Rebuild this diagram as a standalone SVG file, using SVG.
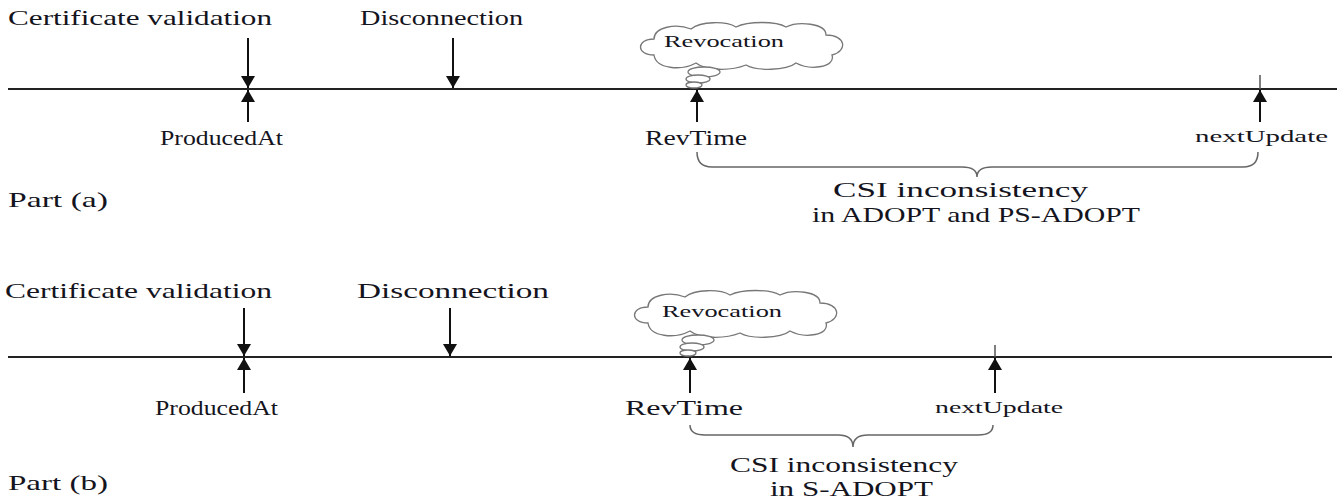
<svg xmlns="http://www.w3.org/2000/svg" width="1337" height="500" viewBox="0 0 1337 500" font-family="'Liberation Serif', 'Times New Roman', serif">
<style>
  text { font-family: 'Liberation Serif', 'Times New Roman', Times, serif; fill: #141420; }
  .lbl { font-size: 21px; }
  .sm { font-size: 17px; }
  .line { stroke: #222; stroke-width: 2; fill: none; }
  .arr { stroke: #111; stroke-width: 2; fill: none; marker-end: url(#ah); }
  .tick { stroke: #555; stroke-width: 1.5; }
  .brace { stroke: #666; stroke-width: 1.5; fill: none; }
  .cloud { stroke: #777; stroke-width: 1.3; fill: #fff; }
</style>
<defs>
  <marker id="ah" markerUnits="userSpaceOnUse" markerWidth="13" markerHeight="14" refX="12" refY="7" orient="auto">
    <path d="M0,0 L12,7 L0,14 z" fill="#111"/>
  </marker>
  <g id="cloudShape">
    <path class="cloud" d="M18,34 C0,34 0,18 18,18 C18,6 40,2 55,8 C65,0 90,0 100,6 C112,0 140,0 150,6 C162,0 190,2 190,14 C210,14 212,30 196,34 C200,46 175,50 160,42 C150,50 120,50 110,44 C95,50 70,50 60,42 C45,50 20,48 18,34 Z"/>
    <ellipse class="cloud" cx="68" cy="51" rx="16" ry="5"/>
    <ellipse class="cloud" cx="62" cy="58" rx="12" ry="4"/>
    <ellipse class="cloud" cx="58" cy="64" rx="8" ry="3"/>
  </g>
</defs>

<!-- Part (a) -->
<g id="timeline-a">
  <line class="line" x1="8" y1="89" x2="1337" y2="89"/>
</g>
<g id="connectors-a">
  <line class="arr" x1="248" y1="38" x2="248" y2="88"/>
  <line class="arr" x1="248" y1="122" x2="248" y2="90"/>
  <line class="arr" x1="453" y1="38" x2="453" y2="88"/>
  <line class="arr" x1="697" y1="122" x2="697" y2="90"/>
  <line class="tick" x1="1260" y1="75" x2="1260" y2="89"/>
  <line class="arr" x1="1260" y1="122" x2="1260" y2="90"/>
  <path class="brace" d="M697,152 Q697,167 712,167 L962,167 Q977,167 977,177 Q977,167 992,167 L1243,167 Q1258,167 1258,152"/>
</g>
<g id="cert-a"><text class="lbl" x="8" y="25" textLength="264" lengthAdjust="spacingAndGlyphs">Certificate validation</text></g>
<g id="disc-a"><text class="lbl" x="360" y="25" textLength="163" lengthAdjust="spacingAndGlyphs">Disconnection</text></g>
<g id="produced-a"><text class="lbl" x="160" y="145" textLength="123" lengthAdjust="spacingAndGlyphs">ProducedAt</text></g>
<g id="revocation-a">
  <use href="#cloudShape" transform="translate(636,21)"/>
  <text class="sm" x="664" y="47" textLength="120" lengthAdjust="spacingAndGlyphs">Revocation</text>
</g>
<g id="revtime-a"><text class="lbl" x="645" y="145" textLength="102" lengthAdjust="spacingAndGlyphs">RevTime</text></g>
<g id="nextupdate-a"><text class="sm" x="1195" y="142" textLength="133" lengthAdjust="spacingAndGlyphs">nextUpdate</text></g>
<g id="csi-a">
  <text class="lbl" x="833" y="197" textLength="255" lengthAdjust="spacingAndGlyphs">CSI inconsistency</text>
  <text class="lbl" x="812" y="222" textLength="328" lengthAdjust="spacingAndGlyphs">in ADOPT and PS-ADOPT</text>
</g>
<g id="part-a"><text class="lbl" x="8" y="207" textLength="100" lengthAdjust="spacingAndGlyphs">Part (a)</text></g>

<!-- Part (b) -->
<g id="timeline-b">
  <line class="line" x1="8" y1="357" x2="1332" y2="357"/>
</g>
<g id="connectors-b">
  <line class="arr" x1="244" y1="308" x2="244" y2="356"/>
  <line class="arr" x1="244" y1="393" x2="244" y2="358"/>
  <line class="arr" x1="450" y1="308" x2="450" y2="356"/>
  <line class="arr" x1="690" y1="393" x2="690" y2="358"/>
  <line class="tick" x1="995" y1="345" x2="995" y2="357"/>
  <line class="arr" x1="995" y1="393" x2="995" y2="358"/>
  <path class="brace" d="M690,425 Q690,435 705,435 L838,435 Q853,435 853,447 Q853,435 868,435 L978,435 Q993,435 993,425"/>
</g>
<g id="cert-b"><text class="lbl" x="5" y="298" textLength="267" lengthAdjust="spacingAndGlyphs">Certificate validation</text></g>
<g id="disc-b"><text class="lbl" x="357" y="298" textLength="192" lengthAdjust="spacingAndGlyphs">Disconnection</text></g>
<g id="produced-b"><text class="lbl" x="155" y="415" textLength="123" lengthAdjust="spacingAndGlyphs">ProducedAt</text></g>
<g id="revocation-b">
  <use href="#cloudShape" transform="translate(630,289)"/>
  <text class="sm" x="662" y="317" textLength="120" lengthAdjust="spacingAndGlyphs">Revocation</text>
</g>
<g id="revtime-b"><text class="lbl" x="625" y="415" textLength="118" lengthAdjust="spacingAndGlyphs">RevTime</text></g>
<g id="nextupdate-b"><text class="sm" x="935" y="413" textLength="128" lengthAdjust="spacingAndGlyphs">nextUpdate</text></g>
<g id="csi-b">
  <text class="lbl" x="730" y="472" textLength="228" lengthAdjust="spacingAndGlyphs">CSI inconsistency</text>
  <text class="lbl" x="770" y="496" textLength="163" lengthAdjust="spacingAndGlyphs">in S-ADOPT</text>
</g>
<g id="part-b"><text class="lbl" x="8" y="490" textLength="100" lengthAdjust="spacingAndGlyphs">Part (b)</text></g>
</svg>
